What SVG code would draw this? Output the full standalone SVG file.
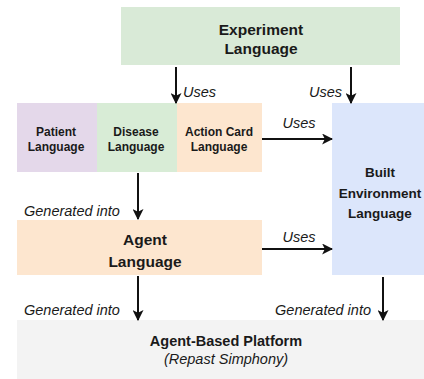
<svg xmlns="http://www.w3.org/2000/svg" width="424" height="379" viewBox="0 0 424 379">
<defs>
<marker id="ah" viewBox="0 0 10 10" refX="9" refY="5" markerWidth="11" markerHeight="11" markerUnits="userSpaceOnUse" orient="auto">
<path d="M0,0 L10,5 L0,10 L2.5,5 Z" fill="#111"/>
</marker>
</defs>
<style>
.b{font-family:"Liberation Sans",Arial,sans-serif;font-weight:bold;fill:#1a1a1a;text-anchor:middle}
.l{font-family:"Liberation Sans",Arial,sans-serif;font-style:italic;fill:#1a1a1a;font-size:14.5px}
.c{stroke:#111;stroke-width:2;fill:none;marker-end:url(#ah)}
</style>
<rect width="424" height="379" fill="#ffffff"/>
<g id="experiment">
<rect x="121" y="7" width="279" height="58" fill="#d9ead7"/>
<text class="b" x="261" y="35" font-size="15.5">Experiment</text>
<text class="b" x="261" y="54" font-size="15.5">Language</text>
</g>
<g id="patient">
<rect x="17" y="103" width="80" height="69" fill="#e4d8ea"/>
<text class="b" x="56" y="136" font-size="12">Patient</text>
<text class="b" x="56" y="151" font-size="12">Language</text>
</g>
<g id="disease">
<rect x="97" y="103" width="80" height="69" fill="#d8ecd6"/>
<text class="b" x="136" y="136" font-size="12">Disease</text>
<text class="b" x="136" y="151" font-size="12">Language</text>
</g>
<g id="actioncard">
<rect x="177" y="103" width="85" height="69" fill="#fde6cf"/>
<text class="b" x="219" y="136" font-size="12">Action Card</text>
<text class="b" x="219" y="151" font-size="12">Language</text>
</g>
<g id="built">
<rect x="332" y="103" width="92" height="172" fill="#dce6fb"/>
<text class="b" x="380" y="177" font-size="13.5">Built</text>
<text class="b" x="380" y="198" font-size="13.5">Environment</text>
<text class="b" x="380" y="218" font-size="13.5">Language</text>
</g>
<g id="agent">
<rect x="17" y="220" width="245" height="55" fill="#fde6cf"/>
<text class="b" x="145" y="245" font-size="15.5">Agent</text>
<text class="b" x="145" y="267" font-size="15.5">Language</text>
</g>
<g id="platform">
<rect x="17" y="320" width="407" height="59" fill="#f3f3f3"/>
<text class="b" x="226" y="346" font-size="14.5">Agent-Based Platform</text>
<text class="l" x="226" y="364" text-anchor="middle" font-size="14">(Repast Simphony)</text>
</g>
<g id="connectors">
<line class="c" x1="176" y1="67" x2="176" y2="103"/>
<text class="l" x="183" y="97">Uses</text>
<line class="c" x1="351" y1="67" x2="351" y2="103"/>
<text class="l" x="342" y="97" text-anchor="end">Uses</text>
<line class="c" x1="262" y1="139" x2="332" y2="139"/>
<text class="l" x="299" y="128" text-anchor="middle">Uses</text>
<line class="c" x1="138" y1="173" x2="138" y2="219"/>
<text class="l" x="24" y="216">Generated into</text>
<line class="c" x1="262" y1="249" x2="332" y2="249"/>
<text class="l" x="299" y="242" text-anchor="middle">Uses</text>
<line class="c" x1="138" y1="276" x2="138" y2="320"/>
<text class="l" x="24" y="315">Generated into</text>
<line class="c" x1="383" y1="277" x2="383" y2="320"/>
<text class="l" x="371" y="315" text-anchor="end">Generated into</text>
</g>
</svg>
